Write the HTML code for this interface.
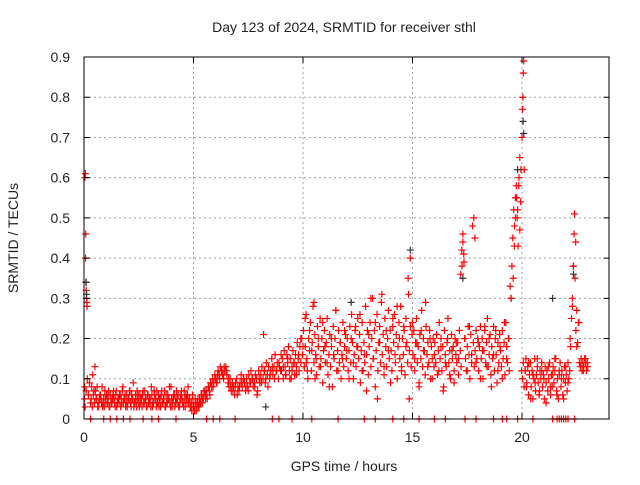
<!DOCTYPE html>
<html><head><meta charset="utf-8"><style>
body{margin:0;background:#fff;}
svg text{font-family:"Liberation Sans",sans-serif;fill:#222;}
</style></head><body>
<svg id="c" width="640" height="480" viewBox="0 0 640 480">
<rect width="640" height="480" fill="#fff"/>
<g id="grid"></g>
<g id="red"></g>
<g id="blk"></g>
<rect x="84" y="57" width="525" height="362" fill="none" stroke="#000" stroke-width="1"/>
<g id="ticks"></g>
<text x="344" y="32" text-anchor="middle" font-size="14">Day 123 of 2024, SRMTID for receiver sthl</text>
<text x="344" y="471" text-anchor="middle" font-size="14">GPS time / hours</text>
<text transform="translate(18,238) rotate(-90)" text-anchor="middle" font-size="14">SRMTID / TECUs</text>
</svg>
<script>
const xTicks=[0,5,10,15,20];
const yTicks=[0,0.1,0.2,0.3,0.4,0.5,0.6,0.7,0.8,0.9];
const yLabels=["0","0.1","0.2","0.3","0.4","0.5","0.6","0.7","0.8","0.9"];
const redPts=[[0.02,0.05],[0.03,0.08],[0.04,0.6],[0.06,0.61],[0.07,0.4],[0.08,0.46],[0.09,0.34],[0.1,0.32],[0.11,0.3],[0.13,0.29],[0.14,0.28],[0.05,0.03],[0.1,0.07],[0.15,0.1],[0.2,0.06],[0.25,0.09],[0.3,0.04],[0.35,0.08],[0.4,0.11],[0.45,0.07],[0.5,0.13],[0.55,0.05],[0.6,0.08],[0.65,0.03],
[0.7,0.05],[0.75,0.06],[0.8,0.04],[0.85,0.03],[0.9,0.05],[0.95,0.07],[1.0,0.04],[1.05,0.06],[1.1,0.05],[1.15,0.03],[1.2,0.06],[1.25,0.04],[1.3,0.05],[1.35,0.07],[1.4,0.04],[1.45,0.06],[1.5,0.03],[1.55,0.05],[1.6,0.04],[1.65,0.06],[1.7,0.05],[1.75,0.07],[1.8,0.04],[1.85,0.05],[1.9,0.03],[1.95,0.06],[2.0,0.04],[2.05,0.05],[2.1,0.07],[2.15,0.03],[2.2,0.05],[2.25,0.09],[2.3,0.04],[2.35,0.06],[2.4,0.03],[2.45,0.05],[2.5,0.04],[2.55,0.06],[2.6,0.05],[2.65,0.03],[2.7,0.07],[2.75,0.04],[2.8,0.05],[2.85,0.03],[2.9,0.06],[2.95,0.04],[3.0,0.05],[3.05,0.03],[3.1,0.06],[3.15,0.04],[3.2,0.07],[3.25,0.05],[3.3,0.03],[3.35,0.04],[3.4,0.06],[3.45,0.05],[3.5,0.03],[3.55,0.07],[3.6,0.04],[3.65,0.05],[3.7,0.03],[3.75,0.06],[3.8,0.04],[3.85,0.05],[3.9,0.08],[3.95,0.03],[4.0,0.05],[4.05,0.04],[4.1,0.06],[4.15,0.03],[4.2,0.05],[4.25,0.04],[4.3,0.06],[4.35,0.03],[4.4,0.05],[4.45,0.07],[4.5,0.04],[4.55,0.03],[4.6,0.05],[4.65,0.06],[4.7,0.04],[4.75,0.08],[4.8,0.05],[4.85,0.03],[4.9,0.04],[4.95,0.06],[5.0,0.03],[5.05,0.02],[5.1,0.04],[5.15,0.03],[5.2,0.05],[5.25,0.03],[5.3,0.04],[5.35,0.06],[5.4,0.04],[5.45,0.05],[5.5,0.07],[5.55,0.05],[5.6,0.06],[5.7,0.08],[5.75,0.06],[5.8,0.09],[5.9,0.08],[6.0,0.1],[6.05,0.09],[6.1,0.11],[6.2,0.1],[6.3,0.12],[6.35,0.11],[6.4,0.13],[6.5,0.12],[6.6,0.1],[6.7,0.08],[6.8,0.07],[6.9,0.08],[7.0,0.06],[7.1,0.08],[7.2,0.09],[7.3,0.1],[7.4,0.08],[7.5,0.07],[7.6,0.09],[7.7,0.1],[7.8,0.08],[7.9,0.06],[8.0,0.1],[8.1,0.09],[8.2,0.21],[8.25,0.12],[8.3,0.1],[8.4,0.08],[8.5,0.11],[8.6,0.13],[8.7,0.1],[8.8,0.12],[8.9,0.14],[9.0,0.16],[9.1,0.13],[9.2,0.11],[9.3,0.15],[9.4,0.1],[9.5,0.12],[9.6,0.14],[9.7,0.11],[9.8,0.16],[9.9,0.2],[10.0,0.18],[10.1,0.25],[10.15,0.14],[10.2,0.12],[10.3,0.22],[10.4,0.17],[10.5,0.29],[10.55,0.1],[10.6,0.15],[10.7,0.2],[10.8,0.13],[10.9,0.24],[11.0,0.18],[11.1,0.14],[11.2,0.08],[11.3,0.2],[11.4,0.16],[11.5,0.27],[11.6,0.12],[11.7,0.19],[11.8,0.15],[11.9,0.22],[12.0,0.17],[12.1,0.1],[12.2,0.2],[12.3,0.14],[12.4,0.23],[12.5,0.18],[12.6,0.26],[12.7,0.12],[12.8,0.16],[12.9,0.07],[13.0,0.21],[13.1,0.3],[13.2,0.15],[13.3,0.24],[13.4,0.05],[13.5,0.19],[13.6,0.31],[13.7,0.13],[13.8,0.22],[13.9,0.17],[14.0,0.09],[14.1,0.25],[14.2,0.16],[14.3,0.28],[14.4,0.2],[14.5,0.12],[14.6,0.23],[14.7,0.18],[14.8,0.35],[14.85,0.05],[14.9,0.4],[15.0,0.24],[15.1,0.15],[15.2,0.19],[15.3,0.08],[15.4,0.22],[15.5,0.17],[15.6,0.29],[15.7,0.13],[15.8,0.2],[15.9,0.1],[16.0,0.16],[16.1,0.21],[16.2,0.12],[16.3,0.18],[16.4,0.07],[16.5,0.14],[16.6,0.2],[16.7,0.11],[16.8,0.17],[16.9,0.09],[17.0,0.19],[17.1,0.15],[17.2,0.36],[17.25,0.42],[17.3,0.46],[17.35,0.39],[17.4,0.2],[17.5,0.12],[17.6,0.23],[17.7,0.16],[17.8,0.5],[17.85,0.45],[17.9,0.14],[18.0,0.19],[18.1,0.1],[18.2,0.17],[18.3,0.23],[18.4,0.13],[18.5,0.2],[18.6,0.08],[18.7,0.16],[18.8,0.22],[18.9,0.12],[19.0,0.18],[19.1,0.1],[19.2,0.24],[19.3,0.15],[19.4,0.2],[19.5,0.3],[19.6,0.35],[19.65,0.43],[19.7,0.5],[19.75,0.55],[19.8,0.52],[19.85,0.58],[19.9,0.47],[19.95,0.62],[20.0,0.7],[20.02,0.77],[20.04,0.8],[20.06,0.86],[20.08,0.89],[20.1,0.62],[20.15,0.12],[20.2,0.08],[20.3,0.14],[20.4,0.05],[20.5,0.11],[20.6,0.09],[20.7,0.15],[20.8,0.07],[20.9,0.12],[21.0,0.1],[21.1,0.04],[21.2,0.13],[21.3,0.08],[21.4,0.11],[21.5,0.15],[21.6,0.06],[21.7,0.12],[21.8,0.1],[21.9,0.05],[22.0,0.13],[22.1,0.09],[22.2,0.2],[22.3,0.28],[22.35,0.38],[22.4,0.51],[22.45,0.44],[22.5,0.18],[22.6,0.24],[22.7,0.14],[22.8,0.12],[22.9,0.15],[23.0,0.13]];
// dense clouds: values in hundredths of TECU, sampled on a regular time grid
const cloudAStart=0.325, cloudAStep=0.05;
const cloudAVals=[5,3,6,4,7,5,3,4,6,5,8,4,3,5,6,4,7,3,5,4,6,5,3,7,4,5,6,3,4,8,5,6,4,3,5,7,4,6,5,3,4,5,7,6,3,4,5,6,4,7,5,3,6,4,5,8,3,4,6,5,7,4,3,5,6,4,5,7,3,4,6,5,4,8,3,5,6,4,7,5,3,4,6,5,4,7,3,5,6,4,5,3,2,4,3,5,2,4,3,5,4,6,5,7];
const cloudBStart=5.525, cloudBStep=0.05;
const cloudBVals=[6,7,5,8,7,9,8,10,9,11,10,9,12,11,13,12,11,10,12,13,11,9,8,10,7,9,8,6,9,10,8,7,9,11,8,10,9,7,10,8,11,9,12,10,8,9,11,10,7,12,9,11,13,10,12,9,14,11,13,10,12,15,11,13,16,12,14,10,13,12];
const cloudCStart=9.02, cloudCStep=0.04;
const cloudCVals=[12,15,10,17,13,11,16,14,18,12,15,10,13,17,14,11,16,13,19,15,12,18,14,20,16,
22,13,18,26,15,10,20,17,24,12,19,28,14,21,16,11,23,18,13,25,15,20,9,17,22,
14,19,25,11,16,21,13,18,8,23,15,20,27,12,17,22,14,19,10,16,24,13,18,21,15,
20,12,17,23,14,26,19,10,16,22,13,18,25,15,21,9,17,24,12,19,14,28,16,22,11,
18,24,13,20,30,15,22,8,17,26,12,19,23,14,29,16,21,11,25,18,13,20,27,15,22,
17,12,23,19,26,14,21,10,18,24,15,28,13,20,16,22,11,25,19,14,31,17,23,13,21,
16,22,12,19,25,14,18,9,21,15,27,13,20,17,11,23,16,19,14,22,10,18,15,20,13,
19,14,21,11,17,24,15,20,12,18,8,22,16,13,19,25,14,17,10,21,15,18,12,20,16,
14,19,11,22,17,13,38,44,41,20,15,12,18,23,16,10,21,14,48,19,13,17,22,15,20,
12,18,23,15,20,10,17,22,14,19,25,13,16,21,11,18,15,23,12,20,16,9,19,14,21,
17,13,22,15,19,11,24,18,14,20,12,33,30,38,45,52,48,55,58,50,43,60,65,54,12,
10,14,8,12,15,
9,13,6,11,14,8,12,5,10,15,7,11,13,9,6,12,10,14,8,11,5,13,9,12,7,10,14,6,11,8,13,9,12,15,7,10,5,11,14,8,12,6,10,13,9,11,7,14,10,12,
18,25,30,38,46,35,22,27,19,24,
14,13,15,12,14,13,15,14,12,14];
const zeroTimes=[0.3,0.9,1.2,1.5,1.8,2.1,2.7,3.1,3.4,4.2,5.6,5.9,6.2,6.9,8.6,8.9,9.5,10.4,11.6,12.8,13.3,14.1,14.6,15.3,16.0,16.5,17.4,17.9,18.7,19.1,19.3,19.8,20.5,21.4,21.6,21.7,21.8,21.9,22.0,22.1,22.4];
const blackPts=[[0.1,0.34],[0.12,0.31],[8.3,0.03],[12.2,0.29],[14.9,0.42],[17.3,0.35],[19.8,0.62],[20.05,0.74],[20.08,0.71],[21.4,0.3],[22.35,0.36]];
const X0=84,X1=609.6,Y0=419,Y1=57;
const xs=t=>X0+(X1-X0)*t/24;
const ys=v=>Y0-(Y0-Y1)*v/0.9;
const NS="http://www.w3.org/2000/svg";
function mk(tag,attrs,parent){const e=document.createElementNS(NS,tag);for(const k in attrs)e.setAttribute(k,attrs[k]);parent.appendChild(e);return e;}
const grid=document.getElementById('grid'),ticks=document.getElementById('ticks');
xTicks.forEach(t=>{const x=xs(t);
 if(t>0){const g=mk('line',{x1:x,x2:x,y1:Y0,y2:Y1,stroke:'#a0a0a0','stroke-dasharray':'2,3'},grid);}
 const tk=mk('path',{d:`M${x},${Y0}v-6M${x},${Y1}v6`,stroke:'#000'},ticks);
 const l=mk('text',{x:x,y:442,'text-anchor':'middle','font-size':'14'},ticks);l.textContent=String(t);});
yTicks.forEach((v,i)=>{const y=ys(v);
 if(v>0&&v<0.9){const g=mk('line',{x1:X0,x2:X1,y1:y,y2:y,stroke:'#a0a0a0','stroke-dasharray':'2,3'},grid);}
 const tk=mk('path',{d:`M${X0},${y}h6M${X1},${y}h-6`,stroke:'#000'},ticks);
 const l=mk('text',{x:70,y:y+5,'text-anchor':'end','font-size':'14'},ticks);l.textContent=yLabels[i];});
function plus(g,t,v,col){const x=xs(t),y=ys(v);const p=mk('path',{d:`M${x-3.5},${y}h7M${x},${y-3.5}v7`,stroke:col,'stroke-width':'1.2'},g);}
const red=document.getElementById('red'),blk=document.getElementById('blk');
redPts.forEach(p=>plus(red,p[0],p[1],'#f00'));
cloudAVals.forEach((v,i)=>plus(red,cloudAStart+i*cloudAStep,v/100,'#f00'));
cloudBVals.forEach((v,i)=>plus(red,cloudBStart+i*cloudBStep,v/100,'#f00'));
cloudCVals.forEach((v,i)=>plus(red,cloudCStart+i*cloudCStep,v/100,'#f00'));
zeroTimes.forEach(t=>plus(red,t,0,'#f00'));
blackPts.forEach(p=>plus(blk,p[0],p[1],'#333'));
</script>
</body></html>
